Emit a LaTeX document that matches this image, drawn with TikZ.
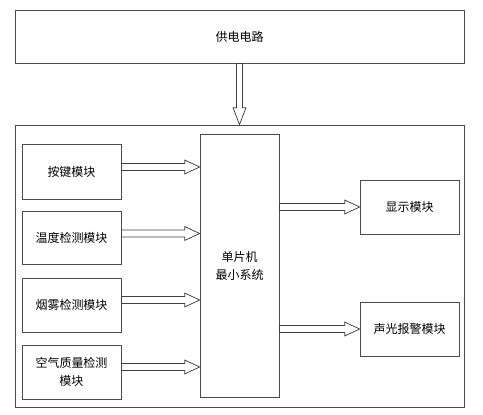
\documentclass[tikz,border=0pt]{standalone}
\usepackage{fontspec}
\newfontfamily\cjk{Noto Sans CJK SC}
\usetikzlibrary{calc}
% hollow block arrow, left to right: from node #1 (east) to node #2 (west), at the height of node #3 shifted by #4
\def\harrow(#1)(#2)(#3)(#4){\path ($(#3.center)+(0,#4)$) coordinate (hy) (hy -| #1.east) coordinate (ha) (hy -| #2.west) coordinate (hb);
	\draw[blockline] let \p1=(ha), \p2=(hb) in (\x1,\y1+3.5pt) -- (\x2-15pt,\y1+3.5pt) -- (\x2-15pt,\y1+7pt) -- (\x2,\y1) -- (\x2-15pt,\y1-7pt) -- (\x2-15pt,\y1-3.5pt) -- (\x1,\y1-3.5pt) -- cycle;}
% hollow block arrow, top to bottom
\def\varrow(#1)(#2){\path (#1.south) coordinate (va) (va |- #2.north) coordinate (vb);
	\draw[blockline] let \p1=(va), \p2=(vb) in (\x1-3pt,\y1) -- (\x1-3pt,\y2+17pt) -- (\x1-6.5pt,\y2+17pt) -- (\x1,\y2) -- (\x1+6.5pt,\y2+17pt) -- (\x1+3pt,\y2+17pt) -- (\x1+3pt,\y1) -- cycle;}

\begin{document}
\begin{tikzpicture}[x=1pt, y=-1pt,
	box/.style={draw=black!70, line width=0.75pt, rectangle, inner sep=0pt, font=\cjk\fontsize{12}{18}\selectfont, align=center},
	blockline/.style={draw=black!75, line width=0.75pt, fill=white}]
			%%%%% START %%%%%
			\useasboundingbox (0,0) rectangle (483,415);
			
			\node[box, minimum width=449pt, minimum height=53pt] (power) at (239.5, 36.5) {供电电路};
			\node[box, minimum width=449pt, minimum height=282pt] (sys) at (239.5, 266) {};
			
			\node[box, minimum width=79pt, minimum height=263pt] (mcu) at (239.5, 265.5) {单片机\\最小系统};
			
			\node[box, minimum width=99pt, minimum height=55pt] (key) at (71.5, 171.5) {按键模块};
			\node[box, minimum width=99pt, minimum height=53pt] (temp) at (71.5, 237.5) {温度检测模块};
			\node[box, minimum width=99pt, minimum height=54pt] (smoke) at (71.5, 305) {烟雾检测模块};
			\node[box, minimum width=99pt, minimum height=54pt] (air) at (71.5, 372) {空气质量检测\\模块};
			
			\node[box, minimum width=99pt, minimum height=54pt] (disp) at (409.5, 207) {显示模块};
			\node[box, minimum width=99pt, minimum height=54pt] (alarm) at (409.5, 329) {声光报警模块};
			
			\varrow(power)(sys)
			
			\harrow(key)(mcu)(key)(-4.5)
			\harrow(temp)(mcu)(temp)(-4)
			\harrow(smoke)(mcu)(smoke)(-5)
			\harrow(air)(mcu)(air)(-5)
			
			\harrow(mcu)(disp)(disp)(0)
			\harrow(mcu)(alarm)(alarm)(0)
			%%%%% END %%%%%
\end{tikzpicture}
\end{document}
